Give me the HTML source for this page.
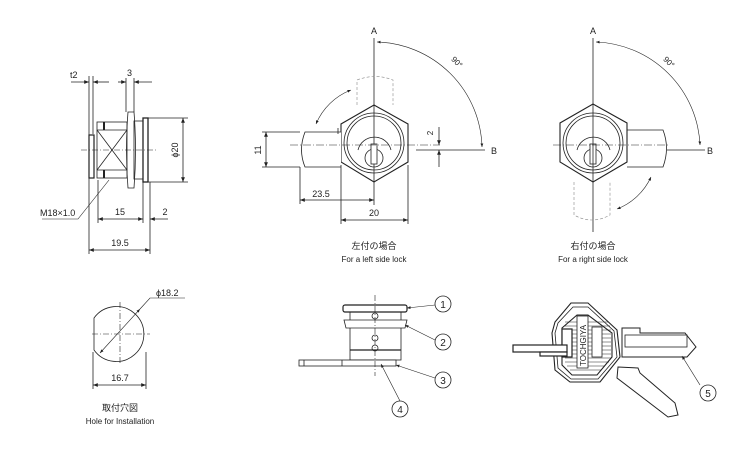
<!DOCTYPE html>
<html><head><meta charset="utf-8"><style>
html,body{margin:0;padding:0;background:#fff;}
svg{display:block;}
text{font-family:"Liberation Sans","Noto Sans CJK JP",sans-serif;fill:#222;}
</style></head><body>
<svg width="750" height="450" viewBox="0 0 750 450" xmlns="http://www.w3.org/2000/svg">
<defs>
<marker id="ar" viewBox="0 0 10 10" refX="10" refY="5" markerWidth="6" markerHeight="6" orient="auto-start-reverse"><path d="M0,1 L10,5 L0,9 z" fill="#222"/></marker>
</defs>
<g stroke="#222" fill="none" stroke-width="0.8">
<!-- ===== Side view ===== -->
<line x1="89" y1="76" x2="89" y2="254"/>
<line x1="93" y1="76" x2="93" y2="134"/>
<line x1="71" y1="82" x2="89" y2="82" marker-end="url(#ar)"/>
<line x1="109" y1="82" x2="93" y2="82" marker-end="url(#ar)"/>
<line x1="126" y1="78" x2="126" y2="112"/>
<line x1="134" y1="78" x2="134" y2="112"/>
<line x1="118" y1="82" x2="126" y2="82" marker-end="url(#ar)"/>
<line x1="152" y1="82" x2="134" y2="82" marker-end="url(#ar)"/>
<rect x="89" y="135" width="5" height="43" stroke-width="1.2"/>
<rect x="97" y="122" width="30" height="56"/>
<line x1="97" y1="130" x2="127" y2="130"/><line x1="97" y1="170" x2="127" y2="170"/>
<line x1="97" y1="130" x2="127" y2="170"/><line x1="97" y1="170" x2="127" y2="130"/>
<line x1="104" y1="122" x2="104" y2="130" stroke-width="2"/><line x1="104" y1="170" x2="104" y2="178" stroke-width="2"/>
<path d="M128,112 L134,112 Q137,150 134,188 L128,188 Q125,150 128,112 z"/>
<rect x="134" y="121" width="9" height="58"/>
<rect x="143" y="118" width="5" height="64" stroke-width="1.3"/>
<line x1="148" y1="118" x2="188" y2="118"/>
<line x1="148" y1="182" x2="188" y2="182"/>
<line x1="183" y1="118" x2="183" y2="182" marker-start="url(#ar)" marker-end="url(#ar)"/>
<line x1="81" y1="150" x2="158" y2="150" stroke-dasharray="6,2,1,2" stroke-width="0.6"/>
<line x1="98" y1="180" x2="98" y2="223"/>
<line x1="143" y1="182" x2="143" y2="223"/>
<line x1="150" y1="182" x2="150" y2="254"/>
<line x1="98" y1="219" x2="143" y2="219" marker-start="url(#ar)" marker-end="url(#ar)"/>
<line x1="168" y1="219" x2="150" y2="219" marker-end="url(#ar)"/>
<line x1="89" y1="250" x2="150" y2="250" marker-start="url(#ar)" marker-end="url(#ar)"/>
<polyline points="42,219 78,219 109,180" stroke-width="0.6"/>

<!-- ===== Left side lock ===== -->
<line x1="374" y1="38" x2="374" y2="205"/>
<polygon points="374,105 408,124 408,162 374,182 341,162 341,124" stroke-width="1.1"/>
<circle cx="374" cy="143" r="30"/>
<circle cx="374" cy="143" r="27"/>
<path d="M358,150 A17,17 0 0 1 391,150"/>
<circle cx="374" cy="158" r="9"/>
<rect x="371" y="144" width="6" height="20" fill="#fff"/>
<path d="M341,132 L305,132 Q298,150 305,167 L341,167" fill="#fff"/>
<line x1="338" y1="128" x2="338" y2="134"/>
<path d="M357,105 L357,80 Q375,73 393,80 L393,105" stroke-dasharray="3,2" stroke-width="0.6" stroke="#888"/>
<line x1="290" y1="145" x2="440" y2="145" stroke-dasharray="8,2,1,2" stroke-width="0.6"/>
<line x1="416" y1="150" x2="485" y2="150"/>
<path d="M377,42 A108,108 0 0 1 482,147" marker-start="url(#ar)" marker-end="url(#ar)" stroke-width="0.6"/>
<path d="M316,124 A62,62 0 0 1 351,90" marker-start="url(#ar)" marker-end="url(#ar)" stroke-width="0.6"/>
<line x1="262" y1="132" x2="300" y2="132"/><line x1="262" y1="167" x2="300" y2="167"/>
<line x1="266" y1="132" x2="266" y2="167" marker-start="url(#ar)" marker-end="url(#ar)"/>
<line x1="439" y1="127" x2="439" y2="145" marker-end="url(#ar)"/>
<line x1="439" y1="167" x2="439" y2="150" marker-end="url(#ar)"/>
<line x1="300" y1="167" x2="300" y2="204"/>
<line x1="300" y1="200" x2="374" y2="200" marker-start="url(#ar)" marker-end="url(#ar)"/>
<line x1="341" y1="165" x2="341" y2="224"/><line x1="408" y1="165" x2="408" y2="224"/>
<line x1="341" y1="220" x2="408" y2="220" marker-start="url(#ar)" marker-end="url(#ar)"/>

<!-- ===== Right side lock ===== -->
<path d="M627,130 L663,130 Q670,148 663,167 L627,167" fill="#fff"/>
<polygon points="593,104 627,123 627,162 593,182 560,162 560,123" stroke-width="1.1" fill="#fff"/>
<circle cx="593" cy="143" r="30"/>
<circle cx="593" cy="143" r="27"/>
<path d="M577,150 A17,17 0 0 1 610,150"/>
<circle cx="593" cy="158" r="9"/>
<rect x="590" y="144" width="6" height="20" fill="#fff"/>
<line x1="593" y1="38" x2="593" y2="232"/>
<path d="M574,182 L574,215 Q592,225 610,215 L610,182" stroke-dasharray="3,2" stroke-width="0.6" stroke="#888"/>
<line x1="553" y1="145" x2="670" y2="145" stroke-dasharray="8,2,1,2" stroke-width="0.6"/>
<line x1="667" y1="150" x2="705" y2="150"/>
<path d="M596,42 A108,108 0 0 1 700,145" marker-start="url(#ar)" marker-end="url(#ar)" stroke-width="0.6"/>
<path d="M651,177 A62,62 0 0 1 617,209" marker-start="url(#ar)" marker-end="url(#ar)" stroke-width="0.6"/>

<!-- ===== Hole ===== -->
<path d="M94,318 A27.5,27.5 0 1 1 94,350 Z"/>
<line x1="92" y1="334" x2="150" y2="334" stroke-dasharray="6,2,1,2" stroke-width="0.6"/>
<line x1="120" y1="302" x2="120" y2="365" stroke-dasharray="6,2,1,2" stroke-width="0.6"/>
<line x1="100" y1="353" x2="140" y2="309" marker-start="url(#ar)" marker-end="url(#ar)" stroke-width="0.6"/>
<polyline points="140,309 150,298 185,298" stroke-width="0.6"/>
<line x1="93" y1="352" x2="93" y2="389"/><line x1="146" y1="352" x2="146" y2="389"/>
<line x1="93" y1="385" x2="146" y2="385" marker-start="url(#ar)" marker-end="url(#ar)"/>

<!-- ===== Parts ===== -->
<rect x="343" y="305" width="64" height="7" rx="2" stroke-width="1.2"/>
<rect x="350" y="312" width="51" height="48"/>
<path d="M344,320 L407,320 L405,328 L346,328 Z" fill="#fff"/>
<line x1="350" y1="350" x2="401" y2="350" stroke-width="1.2"/>
<rect x="299" y="360" width="97" height="6" fill="#fff"/>
<line x1="304" y1="360" x2="304" y2="366"/><line x1="342" y1="360" x2="342" y2="366"/>
<line x1="375" y1="295" x2="375" y2="376" stroke-dasharray="6,2,1,2" stroke-width="0.6"/>
<circle cx="375" cy="316" r="3"/><circle cx="375" cy="338" r="3"/><circle cx="375" cy="348" r="3"/>
<line x1="435" y1="305" x2="407" y2="308" marker-end="url(#ar)" stroke-width="0.6"/>
<line x1="435" y1="340" x2="405" y2="325" marker-end="url(#ar)" stroke-width="0.6"/>
<line x1="435" y1="378" x2="396" y2="365" marker-end="url(#ar)" stroke-width="0.6"/>
<line x1="400" y1="401" x2="381" y2="364" marker-end="url(#ar)" stroke-width="0.6"/>
<circle cx="443" cy="304" r="8"/><circle cx="443" cy="342" r="8"/><circle cx="443" cy="380" r="8"/><circle cx="400" cy="409" r="8"/>

<!-- key -->
<path d="M618,367 L638,368 L640,373 L675,403 L678,415 L668,417 L617,378 Z" fill="#fff" stroke-width="1"/>
<path d="M622,328 L640,328 L640,333 L685,333 L696,347 L687,357 L622,357 Z" fill="#fff" stroke-width="1"/>
<rect x="625" y="335" width="62" height="12"/>
<path d="M571,303 L588,303 L617,330 L620,357 L600,382 L570,382 L555,370 L552,333 L555,322 Z" fill="#fff" stroke-width="1.1"/>
<path d="M573,307 L588,307 L614,331 L617,357 L598,379 L571,379 L558,368 L555,333 L558,323 Z"/>
<path d="M577,315 L588,315 L612,333 L612,357 L597,375 L572,375 L562,365 L562,328 Z" stroke-width="1.1"/>
<g stroke-width="0.5">
<line x1="565" y1="322" x2="608" y2="322"/><line x1="565" y1="326" x2="610" y2="326"/><line x1="565" y1="330" x2="611" y2="330"/><line x1="565" y1="334" x2="611" y2="334"/><line x1="565" y1="338" x2="611" y2="338"/><line x1="565" y1="342" x2="611" y2="342"/><line x1="565" y1="346" x2="611" y2="346"/><line x1="565" y1="350" x2="611" y2="350"/><line x1="565" y1="354" x2="611" y2="354"/><line x1="565" y1="358" x2="611" y2="358"/><line x1="565" y1="362" x2="609" y2="362"/><line x1="567" y1="366" x2="605" y2="366"/><line x1="570" y1="370" x2="601" y2="370"/>
</g>
<rect x="577" y="316" width="11" height="52" fill="#fff"/>
<rect x="592" y="327" width="10" height="30" fill="#fff"/>
<rect x="562" y="329" width="10" height="28" fill="#fff" stroke-width="1.2"/>
<rect x="513" y="345" width="54" height="7" fill="#fff" stroke-width="1.2"/>
<rect x="540" y="352" width="27" height="4" fill="#fff" stroke-width="1.2"/>
<line x1="700" y1="385" x2="682" y2="356" marker-end="url(#ar)" stroke-width="0.6"/>
<circle cx="708" cy="393" r="8"/>
</g>

<g font-size="9">
<text x="70" y="78">t2</text>
<text x="127" y="76">3</text>
<text x="178" y="150" transform="rotate(-90 178 150)" text-anchor="middle">ϕ20</text>
<text x="40" y="216" font-size="9">M18×1.0</text>
<text x="120" y="215" text-anchor="middle">15</text>
<text x="165" y="215" text-anchor="middle">2</text>
<text x="120" y="246" text-anchor="middle">19.5</text>

<text x="374" y="34" text-anchor="middle">A</text>
<text x="491" y="154">B</text>
<text x="455" y="64" transform="rotate(45 455 64)" text-anchor="middle" font-size="8">90°</text>
<text x="261" y="150" transform="rotate(-90 261 150)" text-anchor="middle">11</text>
<text x="433" y="133" transform="rotate(-90 433 133)" text-anchor="middle" font-size="8">2</text>
<text x="321" y="197" text-anchor="middle">23.5</text>
<text x="374" y="216" text-anchor="middle">20</text>
<text x="374" y="249" text-anchor="middle" font-size="9">左付の場合</text>
<text x="374" y="262" text-anchor="middle" font-size="8">For a left side lock</text>

<text x="593" y="34" text-anchor="middle">A</text>
<text x="707" y="154">B</text>
<text x="667" y="64" transform="rotate(45 667 64)" text-anchor="middle" font-size="8">90°</text>
<text x="593" y="249" text-anchor="middle" font-size="9">右付の場合</text>
<text x="593" y="262" text-anchor="middle" font-size="8">For a right side lock</text>

<text x="156" y="296" font-size="9">ϕ18.2</text>
<text x="120" y="381" text-anchor="middle">16.7</text>
<text x="120" y="411" text-anchor="middle">取付穴図</text>
<text x="120" y="424" text-anchor="middle" font-size="8">Hole for Installation</text>

<text x="443" y="308" text-anchor="middle" font-size="10">1</text>
<text x="443" y="346" text-anchor="middle" font-size="10">2</text>
<text x="443" y="384" text-anchor="middle" font-size="10">3</text>
<text x="400" y="413" text-anchor="middle" font-size="10">4</text>
<text x="708" y="397" text-anchor="middle" font-size="10">5</text>
<text x="586" y="366" transform="rotate(-90 586 366)" font-size="8">TOCHGIYA</text>
</g>
</svg>
</body></html>
